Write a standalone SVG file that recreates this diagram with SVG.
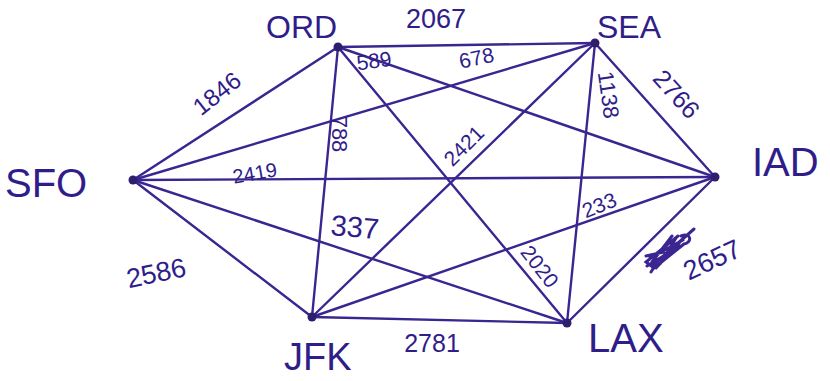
<svg xmlns="http://www.w3.org/2000/svg" width="830" height="381" viewBox="0 0 830 381">
<style>
.e{stroke:#3b2590;stroke-width:2.4;fill:none;stroke-linecap:round}
.n{fill:#2e1f6e}
.lbl{font-family:"Liberation Sans",Arial,sans-serif;fill:#2f1d8a}
.w{font-family:"Liberation Sans",Arial,sans-serif;fill:#2f1d8a;text-anchor:middle}
</style>
<rect width="830" height="381" fill="#ffffff"/>
<g id="connectors">
<line class="e" x1="133" y1="180" x2="338" y2="47"/>
<line class="e" x1="133" y1="180" x2="595" y2="43"/>
<line class="e" x1="133" y1="180" x2="715" y2="177"/>
<line class="e" x1="133" y1="180" x2="567" y2="323"/>
<line class="e" x1="133" y1="180" x2="312" y2="317"/>
<line class="e" x1="338" y1="47" x2="595" y2="43"/>
<line class="e" x1="338" y1="47" x2="715" y2="177"/>
<line class="e" x1="338" y1="47" x2="567" y2="323"/>
<line class="e" x1="338" y1="47" x2="312" y2="317"/>
<line class="e" x1="595" y1="43" x2="715" y2="177"/>
<line class="e" x1="595" y1="43" x2="567" y2="323"/>
<line class="e" x1="595" y1="43" x2="312" y2="317"/>
<line class="e" x1="715" y1="177" x2="567" y2="323"/>
<line class="e" x1="715" y1="177" x2="312" y2="317"/>
<line class="e" x1="312" y1="317" x2="567" y2="323"/>
<text class="w" transform="translate(222,100) rotate(-38)" style="font-size:24px">1846</text>
<text class="w" x="436" y="28" style="font-size:27px">2067</text>
<text class="w" transform="translate(375,68) rotate(-8)" style="font-size:21px">589</text>
<text class="w" transform="translate(478,65) rotate(-12)" style="font-size:21px">678</text>
<text class="w" transform="translate(670,100) rotate(48)" style="font-size:25px">2766</text>
<text class="w" transform="translate(601,96) rotate(82)" style="font-size:22px">1138</text>
<text class="w" transform="translate(332,134) rotate(90)" style="font-size:22px">788</text>
<text class="w" transform="translate(256,180) rotate(-10)" style="font-size:20px">2419</text>
<text class="w" transform="translate(469,151) rotate(-45)" style="font-size:21px">2421</text>
<text class="w" transform="translate(354,237) rotate(5)" style="font-size:29px">337</text>
<text class="w" transform="translate(602,212) rotate(-22)" style="font-size:21px">233</text>
<text class="w" transform="translate(158,282) rotate(-12)" style="font-size:27px">2586</text>
<text class="w" transform="translate(534,271) rotate(52)" style="font-size:21px">2020</text>
<text class="w" transform="translate(716,268) rotate(-25)" style="font-size:27px">2657</text>
<text class="w" x="432" y="352" style="font-size:25px">2781</text>
<path d="M694,229 L652,266 M681,236 C692,232 692,243 684,244 L654,268 L646,262 L678,236 M650,258 L683,240 M647,266 L680,246 M652,262 L672,236 M656,268 L680,242 M660,264 L676,238 M646,256 L664,252 M651,272 L656,264" stroke="#3b2590" stroke-width="3" fill="none" stroke-linecap="round"/>
</g>
<g id="SFO"><circle class="n" cx="133" cy="180" r="4.5"/><text class="lbl" x="5" y="197" style="font-size:40px">SFO</text></g>
<g id="ORD"><circle class="n" cx="338" cy="47" r="4.5"/><text class="lbl" x="266" y="38" style="font-size:32px">ORD</text></g>
<g id="SEA"><circle class="n" cx="595" cy="43" r="4.5"/><text class="lbl" x="597" y="38" style="font-size:32px">SEA</text></g>
<g id="IAD"><circle class="n" cx="715" cy="177" r="4.5"/><text class="lbl" x="752" y="176" style="font-size:40px">IAD</text></g>
<g id="JFK"><circle class="n" cx="312" cy="317" r="4.5"/><text class="lbl" x="284" y="370" style="font-size:38px">JFK</text></g>
<g id="LAX"><circle class="n" cx="567" cy="323" r="4.5"/><text class="lbl" x="588" y="352" style="font-size:40px">LAX</text></g>
</svg>
